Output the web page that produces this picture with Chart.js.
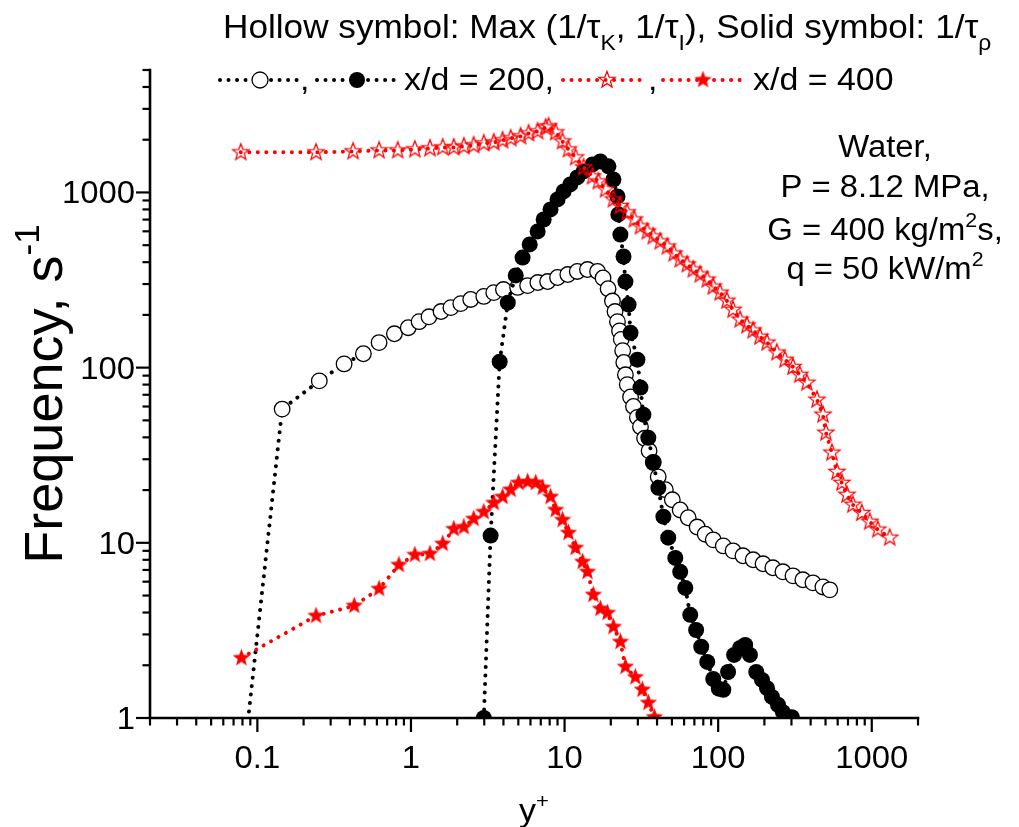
<!DOCTYPE html>
<html><head><meta charset="utf-8">
<script src="https://cdn.jsdelivr.net/npm/chart.js@4.4.1/dist/chart.umd.min.js"></script>
<style>html,body{margin:0;padding:0;background:#fff;}</style>
</head><body>
<canvas id="c" width="1019" height="827"></canvas>
<script>
// ---------------- data ----------------
const hollow200X = [0.08, 0.145, 0.253, 0.367, 0.49, 0.62, 0.78, 0.96, 1.13, 1.31, 1.57, 1.82, 2.11, 2.45, 2.98, 3.46, 4.0, 4.95, 5.75, 6.7, 7.76, 9.0, 10.5, 12.1, 14.1, 16.4, 17.8, 19.2, 20.5, 21.3, 22.1, 22.8, 23.4, 23.9, 24.3, 24.9, 25.6, 26.9, 28.1, 29.8, 31.2, 33.2, 35.5, 37.8, 40.7, 45.3, 50.3, 56.6, 63.8, 73, 82.4, 92.9, 108, 125, 145, 169, 196, 227, 264, 307, 356, 414, 481, 533];
const hollow200Y = [0.5, 58, 84, 105, 120, 139, 156, 169, 183, 195, 209, 220, 232, 245, 255, 268, 279, 287, 294, 306, 310, 327, 340, 354, 363, 354, 325, 282, 240, 209, 183, 162, 145, 125, 107, 91, 80, 68, 60, 52, 46, 39.5, 33.5, 28.8, 23.8, 20.1, 17.6, 15.4, 13.9, 12.3, 11.2, 10.4, 9.6, 9.0, 8.43, 8.0, 7.59, 7.2, 6.83, 6.48, 6.15, 5.91, 5.6, 5.39];

const solid200X = [2.98, 3.3, 3.78, 4.27, 4.81, 5.33, 5.93, 6.68, 7.31, 8.1, 9.0, 9.86, 10.9, 12.1, 13.3, 15.2, 17.1, 19.3, 20.8, 22.1, 22.4, 23.1, 24.2, 24.9, 26.1, 26.9, 29.8, 31.2, 32.6, 35.1, 37.8, 40.8, 44, 47.3, 52.6, 56.6, 61.1, 65.8, 71.9, 77.6, 84.9, 92.9, 101, 108, 116, 127, 139, 150, 161, 177, 193, 208, 224, 245, 264, 302];
const solid200Y = [1.0, 11, 108, 235, 336, 425, 505, 599, 701, 800, 912, 1013, 1111, 1218, 1318, 1445, 1503, 1409, 1186, 949, 749, 575, 431, 310, 229, 158, 111, 76.9, 53.9, 39.8, 28.6, 20.6, 14.1, 10.7, 8.2, 6.83, 5.53, 3.88, 3.18, 2.55, 2.09, 1.67, 1.47, 1.45, 1.83, 2.29, 2.51, 2.61, 2.29, 1.83, 1.65, 1.48, 1.32, 1.19, 1.08, 1.01];

const hollow400X = [0.078, 0.241, 0.42, 0.62, 0.82, 1.06, 1.33, 1.61, 1.9, 2.21, 2.56, 2.98, 3.46, 3.95, 4.46, 5.18, 5.83, 6.68, 7.53, 7.87, 8.75, 9.7, 10.6, 11.8, 13.3, 15.2, 16.6, 18.5, 20.8, 23.1, 25.6, 28.5, 31.2, 34.6, 37.8, 42, 46.7, 51.7, 56.6, 62.9, 68.9, 76.4, 84.9, 92.9, 103, 114, 125, 139, 154, 169, 187, 208, 241, 272, 307, 340, 378, 440, 481, 503, 550, 593, 639, 689, 753, 861, 970, 1094, 1309];
const hollow400Y = [1694, 1694, 1715, 1738, 1738, 1761, 1784, 1808, 1808, 1832, 1857, 1906, 1931, 1983, 2036, 2090, 2173, 2232, 2350, 2384, 2203, 1956, 1761, 1585, 1390, 1234, 1156, 1040, 912, 837, 769, 701, 640, 599, 561, 525, 491, 448, 414, 388, 363, 340, 318, 290, 268, 241, 214, 188, 174, 163, 150, 139, 122, 111, 101, 91, 82, 65.6, 53.9, 42.5, 32.7, 25.4, 22, 18.8, 16.5, 14.8, 13.2, 11.9, 10.7];

const solid400X = [0.0787, 0.241, 0.427, 0.62, 0.835, 1.06, 1.33, 1.61, 1.9, 2.21, 2.56, 2.98, 3.46, 3.95, 4.46, 5.02, 5.75, 6.49, 7.2, 8.1, 8.75, 9.7, 10.6, 11.8, 13.1, 14.1, 15.4, 17.1, 19.0, 20.8, 23.1, 24.9, 28.9, 32.1, 35.1, 38.4];
const solid400Y = [2.2, 3.83, 4.37, 5.46, 7.48, 8.53, 8.65, 9.87, 12.0, 12.3, 13.7, 15.0, 16.9, 18.3, 20.1, 22.0, 22.3, 22.0, 20.6, 18.3, 15.4, 13.5, 11.4, 9.36, 7.79, 6.83, 5.05, 4.2, 3.98, 3.31, 2.72, 1.96, 1.71, 1.45, 1.22, 1.01];

const xTickValues = [0.1, 1, 10, 100, 1000];
const xTickLabels = ['0.1', '1', '10', '100', '1000'];
const yTickValues = [1, 10, 100, 1000];
const yTickLabels = ['1', '10', '100', '1000'];
const xRange = [0.02, 2000];
const yRange = [1, 5000];

// ---------------- helpers ----------------
const FONT = '"Liberation Sans", Arial, sans-serif';
const SX = 1.06;
const RED = '#ff0000';

function pts(xs, ys) { return xs.map((x, i) => ({ x: x, y: ys[i] })); }

function starPath(g, cx, cy, R, r) {
  g.beginPath();
  for (let i = 0; i < 10; i++) {
    const ang = -Math.PI / 2 + i * Math.PI / 5;
    const rad = (i % 2 === 0) ? R : r;
    const px = cx + rad * Math.cos(ang), py = cy + rad * Math.sin(ang);
    if (i === 0) g.moveTo(px, py); else g.lineTo(px, py);
  }
  g.closePath();
}
function makeStar(R, filled) {
  const s = Math.ceil(2 * R + 6);
  const c = document.createElement('canvas');
  c.width = s; c.height = s;
  const g = c.getContext('2d');
  starPath(g, s / 2, s / 2, R, R * 0.42);
  if (filled) { g.fillStyle = RED; g.fill(); }
  else { g.strokeStyle = RED; g.lineWidth = 1.25; g.lineJoin = 'miter'; g.stroke(); }
  return c;
}
const starHollow = makeStar(8.6, false);
const starSolid = makeStar(9.2, true);

function richText(ctx, x, y, segs, size, align, rotate) {
  ctx.save();
  let total = 0;
  const parts = segs.map(sg => {
    const fs = sg.s ? size * 0.65 : size;
    ctx.font = fs + 'px ' + FONT;
    const w = ctx.measureText(sg.t).width;
    total += w;
    return { t: sg.t, fs: fs, w: w, dy: sg.s === 'sub' ? size * 0.37 : (sg.s === 'sup' ? -size * 0.42 : 0) };
  });
  let cx = align === 'center' ? -total / 2 : (align === 'right' ? -total : 0);
  ctx.translate(x, y);
  if (rotate) ctx.rotate(-Math.PI / 2);
  else ctx.scale(SX, 1);
  ctx.textBaseline = 'alphabetic';
  ctx.textAlign = 'left';
  ctx.fillStyle = '#000';
  for (const p of parts) {
    ctx.font = p.fs + 'px ' + FONT;
    ctx.fillText(p.t, cx, p.dy);
    cx += p.w;
  }
  ctx.restore();
}

function dotLine(ctx, x1, x2, y, color) {
  ctx.save();
  ctx.strokeStyle = color; ctx.lineWidth = 4; ctx.lineCap = 'round';
  ctx.setLineDash([0.01, 8.5]);
  ctx.beginPath(); ctx.moveTo(x1, y); ctx.lineTo(x2, y); ctx.stroke();
  ctx.restore();
}

const decor = {
  id: 'decor',
  afterDraw(chart) {
    const ctx = chart.ctx, a = chart.chartArea;
    const xs = chart.scales.x, ys = chart.scales.y;
    ctx.save();
    // axis lines
    ctx.strokeStyle = '#000'; ctx.lineWidth = 2.6; ctx.lineCap = 'square';
    ctx.beginPath(); ctx.moveTo(a.left, a.top); ctx.lineTo(a.left, a.bottom); ctx.lineTo(a.right, a.bottom); ctx.stroke();
    // ticks
    ctx.lineWidth = 2.2; ctx.lineCap = 'butt';
    for (let e = -2; e <= 3; e++) for (let m = 1; m <= 9; m++) {
      const v = m * Math.pow(10, e);
      if (v >= xRange[0] * 0.999 && v <= xRange[1] * 1.001) {
        const px = xs.getPixelForValue(v);
        const len = m === 1 ? 14 : 7.5;
        ctx.beginPath(); ctx.moveTo(px, a.bottom); ctx.lineTo(px, a.bottom + len); ctx.stroke();
      }
      if (v >= yRange[0] * 0.999 && v <= yRange[1] * 1.001) {
        const py = ys.getPixelForValue(v);
        const len = m === 1 ? 14 : 7.5;
        ctx.beginPath(); ctx.moveTo(a.left, py); ctx.lineTo(a.left - len, py); ctx.stroke();
      }
    }
    // tick labels
    xTickValues.forEach((v, i) => richText(ctx, xs.getPixelForValue(v), a.bottom + 50, [{ t: xTickLabels[i] }], 31, 'center'));
    yTickValues.forEach((v, i) => richText(ctx, a.left - 15, ys.getPixelForValue(v) + 11, [{ t: yTickLabels[i] }], 31, 'right'));
    // axis titles
    richText(ctx, (a.left + a.right) / 2, 821, [{ t: 'y' }, { t: '+', s: 'sup' }], 32, 'center');
    richText(ctx, 62, (a.top + a.bottom) / 2, [{ t: 'Frequency, s' }, { t: '-1', s: 'sup' }], 54, 'center', true);
    // header line 1
    richText(ctx, 223, 38, [
      { t: 'Hollow symbol: Max (1/\u03c4' }, { t: 'K', s: 'sub' }, { t: ', 1/\u03c4' }, { t: 'I', s: 'sub' },
      { t: '), Solid symbol: 1/\u03c4' }, { t: '\u03c1', s: 'sub' }], 33.2, 'left');
    // legend line 2
    const ly = 80;
    dotLine(ctx, 220, 300, ly, '#000');
    ctx.beginPath(); ctx.arc(260, ly, 8, 0, Math.PI * 2); ctx.fillStyle = '#fff'; ctx.fill();
    ctx.lineWidth = 1.3; ctx.strokeStyle = '#000'; ctx.stroke();
    richText(ctx, 300, 90, [{ t: ',' }], 32, 'left');
    dotLine(ctx, 317, 397, ly, '#000');
    ctx.beginPath(); ctx.arc(357, ly, 8, 0, Math.PI * 2); ctx.fillStyle = '#000'; ctx.fill();
    richText(ctx, 404, 90, [{ t: 'x/d = 200,' }], 32, 'left');
    dotLine(ctx, 563, 647, ly, RED);
    ctx.drawImage(starHollow, 607 - starHollow.width / 2, ly - starHollow.height / 2);
    richText(ctx, 648, 90, [{ t: ',' }], 32, 'left');
    dotLine(ctx, 663, 742, ly, RED);
    ctx.drawImage(starSolid, 703 - starSolid.width / 2, ly - starSolid.height / 2);
    richText(ctx, 753, 90, [{ t: 'x/d = 400' }], 32, 'left');
    // annotation
    const ax = 885;
    richText(ctx, ax, 157, [{ t: 'Water,' }], 31, 'center');
    richText(ctx, ax, 197, [{ t: 'P = 8.12 MPa,' }], 31, 'center');
    richText(ctx, ax, 240, [{ t: 'G = 400 kg/m' }, { t: '2', s: 'sup' }, { t: 's,' }], 31, 'center');
    richText(ctx, ax, 279, [{ t: 'q = 50 kW/m' }, { t: '2', s: 'sup' }], 31, 'center');
    ctx.restore();
  }
};

const dotted = { borderWidth: 4, borderDash: [0.01, 8.5], borderCapStyle: 'round', tension: 0, fill: false };

new Chart(document.getElementById('c'), {
  type: 'line',
  data: {
    datasets: [
      Object.assign({ label: 'solid400', data: pts(solid400X, solid400Y), borderColor: RED,
        pointStyle: starSolid, pointRadius: 9, order: 0 }, dotted),
      Object.assign({ label: 'hollow400', data: pts(hollow400X, hollow400Y), borderColor: RED,
        pointStyle: starHollow, pointRadius: 9, order: 1 }, dotted),
      Object.assign({ label: 'solid200', data: pts(solid200X, solid200Y), borderColor: '#000',
        pointStyle: 'circle', pointRadius: 8, pointBackgroundColor: '#000', pointBorderColor: '#000', pointBorderWidth: 0, order: 2 }, dotted),
      Object.assign({ label: 'hollow200', data: pts(hollow200X, hollow200Y), borderColor: '#000',
        pointStyle: 'circle', pointRadius: (c) => (c.raw && c.raw.y < 1 ? 0 : 7.8), pointBackgroundColor: '#fff', pointBorderColor: '#000', pointBorderWidth: 1.3, order: 3 }, dotted)
    ]
  },
  options: {
    responsive: false,
    devicePixelRatio: 1,
    animation: false,
    layout: { padding: { top: 70, right: 101, left: 0, bottom: 0 }, autoPadding: false },
    plugins: { legend: { display: false }, tooltip: { enabled: false } },
    scales: {
      x: { type: 'logarithmic', min: xRange[0], max: xRange[1], position: 'bottom',
        grid: { display: false, drawTicks: false }, border: { display: false }, ticks: { display: false },
        afterFit: (s) => { s.height = 109; } },
      y: { type: 'logarithmic', min: yRange[0], max: yRange[1], position: 'left',
        grid: { display: false, drawTicks: false }, border: { display: false }, ticks: { display: false },
        afterFit: (s) => { s.width = 150; } }
    }
  },
  plugins: [decor]
});
</script>
</body></html>
